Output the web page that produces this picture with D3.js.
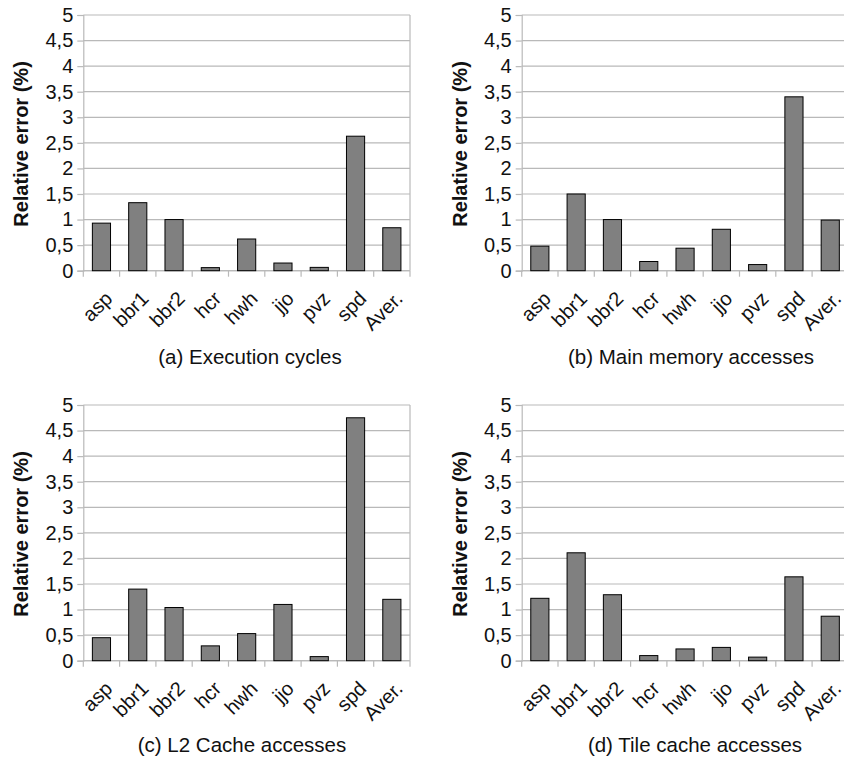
<!DOCTYPE html>
<html>
<head>
<meta charset="utf-8">
<script src="https://cdn.jsdelivr.net/npm/d3@7"></script>
<style>
  body { margin: 0; background: #fff; }
  text { font-family: "Liberation Sans", Arial, sans-serif; fill: #111; }
</style>
</head>
<body>
<svg id="chart"></svg>
<script>
// Benchmarks shown on every panel
const categories = ["asp", "bbr1", "bbr2", "hcr", "hwh", "jjo", "pvz", "spd", "Aver."];

// Relative error (%) per panel
const execCycles   = [0.93, 1.33, 1.00, 0.06, 0.62, 0.15, 0.065, 2.63, 0.84];
const mainMemory   = [0.48, 1.50, 1.00, 0.18, 0.44, 0.81, 0.12, 3.40, 0.99];
const l2Cache      = [0.45, 1.40, 1.04, 0.29, 0.53, 1.10, 0.08, 4.75, 1.20];
const tileCache    = [1.22, 2.11, 1.29, 0.10, 0.23, 0.26, 0.07, 1.64, 0.87];

const captions = [
    "(a) Execution cycles",
    "(b) Main memory accesses",
    "(c) L2 Cache accesses",
    "(d) Tile cache accesses"
];

const yTicks = [0, 0.5, 1, 1.5, 2, 2.5, 3, 3.5, 4, 4.5, 5];

const width = 844;
const height = 757;

const svg = d3.select("#chart")
    .attr("width", width)
    .attr("height", height);

// Panel placement: plot left edge, plot top, caption centre x, caption baseline y
const panels = [
    { values: execCycles, caption: captions[0], left: 83.3,  top: 15,  capX: 250, capY: 364 },
    { values: mainMemory, caption: captions[1], left: 521.7, top: 15,  capX: 691, capY: 364 },
    { values: l2Cache,    caption: captions[2], left: 83.3,  top: 405, capX: 242, capY: 752 },
    { values: tileCache,  caption: captions[3], left: 521.7, top: 405, capX: 695, capY: 752 }
];

const plotW = 326.7;
const plotH = 255.7;
const gridColor = "#b9b9b9";

panels.forEach(p => {
    const g = svg.append("g").attr("transform", `translate(${p.left},${p.top})`);

    const x = d3.scaleBand()
        .domain(categories)
        .range([0, plotW])
        .paddingInner(0.5)
        .paddingOuter(0.25);

    const y = d3.scaleLinear()
        .domain([0, 5])
        .range([plotH, 0]);

    // Horizontal grid lines
    g.selectAll(".grid")
        .data(yTicks)
        .join("line")
        .attr("x1", 0)
        .attr("x2", plotW)
        .attr("y1", d => y(d))
        .attr("y2", d => y(d))
        .attr("stroke", gridColor)
        .attr("stroke-width", 1.2);

    // Right border
    g.append("line")
        .attr("x1", plotW).attr("x2", plotW)
        .attr("y1", 0).attr("y2", plotH)
        .attr("stroke", gridColor)
        .attr("stroke-width", 1.2);

    // Y axis
    const yAxis = g.append("g")
        .call(d3.axisLeft(y)
            .tickValues(yTicks)
            .tickSize(6)
            .tickPadding(4)
            .tickFormat(d => String(d).replace(".", ",")));
    yAxis.select(".domain").attr("stroke", gridColor).attr("stroke-width", 1.2);
    yAxis.selectAll(".tick line").attr("stroke", gridColor).attr("stroke-width", 1.2);
    yAxis.selectAll(".tick text")
        .style("font-size", "20px")
        .style("font-family", "Liberation Sans, Arial, sans-serif")
        .attr("fill", "#111");

    // X axis with ticks on category boundaries
    const xg = g.append("g").attr("transform", `translate(0,${plotH})`);
    xg.append("line")
        .attr("x1", 0).attr("x2", plotW)
        .attr("stroke", gridColor)
        .attr("stroke-width", 1.2);
    xg.selectAll(".xtick")
        .data(d3.range(categories.length + 1))
        .join("line")
        .attr("x1", i => i * x.step())
        .attr("x2", i => i * x.step())
        .attr("y1", 0)
        .attr("y2", 6)
        .attr("stroke", gridColor)
        .attr("stroke-width", 1.2);
    xg.selectAll(".xlabel")
        .data(categories)
        .join("text")
        .attr("text-anchor", "end")
        .attr("transform", d => `translate(${x(d) + x.bandwidth() / 2 + 2},${19}) rotate(-45)`)
        .attr("dy", "0.72em")
        .style("font-size", "20px")
        .text(d => d);

    // Bars
    g.selectAll(".bar")
        .data(p.values)
        .join("rect")
        .attr("x", (d, i) => x(categories[i]))
        .attr("width", x.bandwidth())
        .attr("y", d => y(d))
        .attr("height", d => y(0) - y(d))
        .attr("fill", "#808080")
        .attr("stroke", "#000")
        .attr("stroke-width", 1);

    // Y axis title
    g.append("text")
        .attr("transform", `translate(-62,129) rotate(-90)`)
        .attr("text-anchor", "middle")
        .attr("dy", "0.35em")
        .style("font-size", "20px")
        .style("font-weight", "bold")
        .text("Relative error (%)");

    // Caption
    svg.append("text")
        .attr("x", p.capX)
        .attr("y", p.capY)
        .attr("text-anchor", "middle")
        .style("font-size", "20.5px")
        .text(p.caption);
});
</script>
</body>
</html>
